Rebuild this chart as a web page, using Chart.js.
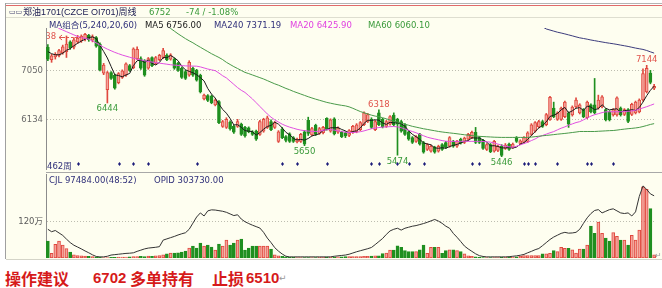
<!DOCTYPE html>
<html lang="zh-CN">
<head>
<meta charset="utf-8">
<title>郑油1701 周线</title>
<script src="https://cdn.jsdelivr.net/npm/chart.js@4.4.1/dist/chart.umd.min.js"></script>
<style>
  html, body { margin:0; padding:0; background:#ffffff; }
  #stage { position:relative; width:662px; height:288px; overflow:hidden; background:#ffffff; }
  .abs { position:absolute; white-space:nowrap; }
  .ln { position:absolute; }
  .s { font-family:"DejaVu Sans","Noto Sans CJK SC",sans-serif; font-size:8.5px; line-height:10px; }
  canvas { position:absolute; left:0; }
  .big { font-family:"Noto Sans CJK SC",sans-serif; font-weight:700; font-size:16px; line-height:18px; color:#d61a1a; }
  .bign { font-family:"Liberation Sans",Arial,sans-serif; font-weight:700; font-size:15px; line-height:18px; color:#d61a1a; }
</style>
</head>
<body>
<div id="stage">
  <div class="ln" style="left:6px;top:5px;width:656px;height:254px;background:#fefef0"></div>
  <div class="ln" style="left:6px;top:3px;width:656px;height:1px;background:#b4b4b4"></div>
  <div class="ln" style="left:6px;top:5px;width:656px;height:1px;background:#e06a6a"></div>
  <div class="ln" style="left:6px;top:17px;width:656px;height:1px;background:#deded0"></div>
  <div class="ln" style="left:5px;top:3px;width:1px;height:256px;background:#a0a0a0"></div>
  <div class="ln" style="left:46px;top:172px;width:616px;height:1px;background:#a8a8a8"></div>
  <div class="ln" style="left:6px;top:259px;width:656px;height:1px;background:#d4d4c8"></div>

  <canvas id="priceChart" width="662" height="178" style="top:0px"></canvas>
  <canvas id="volChart" width="662" height="100" style="top:166px"></canvas>

  <div class="abs" style="left:9px;top:7px;font:7px 'DejaVu Sans';line-height:10px;color:#3a3a6a">▭▭</div>
  <div class="abs" style="left:23px;top:7px;font-family:'Liberation Sans','Noto Sans CJK SC',sans-serif;font-size:9px;line-height:10px;color:#1a1a50">郑油1701(CZCE OI701)周线</div>
  <div class="abs s" id="lastPrice" style="left:149px;top:7px;color:#3a9a3a"></div>
  <div class="abs s" id="change" style="left:186px;top:7px;color:#3a9a3a"></div>

  <div class="abs s" style="left:49px;top:20px;color:#30307a">MA组合(5,240,20,60)</div>
  <div class="abs s" id="lg5" style="left:145px;top:20px;color:#202020"></div>
  <div class="abs s" id="lg240" style="left:214px;top:20px;color:#30307a"></div>
  <div class="abs s" id="lg20" style="left:290px;top:20px;color:#e040e0"></div>
  <div class="abs s" id="lg60" style="left:368px;top:20px;color:#3a9a3a"></div>

  <div class="abs s" style="left:47px;top:161px;color:#30307a">462周</div>
  <div class="abs s" id="cjl" style="left:49px;top:175px;color:#30307a"></div>
  <div class="abs s" id="opid" style="left:154px;top:175px;color:#30307a"></div>
  <div class="abs" style="left:655px;top:251px;font:8px 'DejaVu Sans';line-height:10px;color:#999">↵</div>

  <div class="abs big" style="left:5px;top:269px">操作建议</div>
  <div class="abs bign" style="left:93px;top:269px">6702</div>
  <div class="abs big" style="left:130px;top:269px">多单持有</div>
  <div class="abs big" style="left:212px;top:269px">止损</div>
  <div class="abs bign" style="left:246px;top:269px">6510</div>
  <div class="abs" style="left:279px;top:272px;font:9px 'DejaVu Sans';line-height:12px;color:#999">↵</div>
</div>

<script>
// ---------------- data (weekly) ----------------
const opens = [7480,7250,7300,7330,7380,7400,7580,7480,7580,7600,
 7640,7700,7610,7660,7540,7000,6690,7010,6960,6820,
 6920,6960,7140,7100,7270,7270,7230,7090,7290,7180,
 7250,7290,7330,7260,7260,7180,7090,7030,6960,7090,
 7050,6960,6520,6580,6570,6410,6470,6010,5990,6090,
 6010,6010,6050,5990,5980,5910,5920,5860,5920,5990,
 6100,5990,5730,5960,5820,5870,5800,5720,5730,5910,
 6120,5850,6030,5880,5890,6160,5920,6150,5900,5900,
 5890,5840,5900,5910,5950,6040,6100,6140,5950,6260,
 6140,6010,6050,6220,6140,6100,6040,5910,5800,5730,
 5860,5710,5580,5550,5620,5550,5670,5710,5640,5730,
 5640,5770,5710,5770,5800,5900,5800,5750,5580,5670,
 5550,5560,5640,5600,5680,5620,5790,5690,5710,5730,
 5860,5920,6000,6100,6040,6140,6350,6140,6140,6190,
 6260,6220,6370,6260,6320,6170,6410,6410,6350,6370,
 6320,6280,6220,6220,6350,6230,6320,6230,6260,6280,
 6500,6650,7000,6720];
const highs = [7530,7350,7380,7440,7520,7690,7600,7660,7700,7710,
 7738,7720,7710,7680,7560,7180,7030,7030,6980,7010,
 7060,7190,7160,7470,7490,7300,7250,7290,7300,7310,
 7350,7460,7360,7360,7280,7200,7110,7050,7230,7110,
 7070,6980,6610,6600,6590,6520,6490,6120,6170,6110,
 6030,6140,6070,6010,6000,5930,5940,6120,6160,6200,
 6130,6100,5930,5990,5840,5890,5820,5790,5880,5930,
 6180,5990,6050,5990,6010,6170,6150,6170,6000,5920,
 5910,5950,6030,6060,6100,6280,6250,6170,6120,6318,
 6160,6120,6210,6260,6160,6120,6060,5930,5820,5840,
 5880,5730,5690,5660,5640,5660,5690,5730,5820,5750,
 5750,5790,5810,5880,5920,5990,5820,5770,5690,5690,
 5750,5660,5670,5690,5700,5700,5820,5760,5820,5910,
 6060,6100,6120,6120,6250,6570,6460,6280,6370,6480,
 6280,6390,6540,6430,6340,6480,6430,6900,6590,6580,
 6340,6300,6340,6560,6370,6340,6340,6440,6480,6520,
 7080,7144,7050,6790];
const lows = [7230,7200,7260,7300,7350,7290,7440,7450,7550,7570,
 7600,7590,7580,7480,7040,6970,6444,6880,6700,6800,
 6900,6940,7030,7080,7250,7070,6940,7070,7120,7160,
 7230,7270,7230,7240,7070,7030,6900,6880,6940,6940,
 6850,6630,6500,6470,6430,6390,6060,5990,5970,5940,
 5880,5990,5840,5810,5890,5840,5750,5840,5900,5970,
 5930,5970,5710,5780,5720,5710,5710,5700,5710,5650,
 5840,5830,5840,5860,5870,5940,5900,5850,5880,5800,
 5800,5820,5880,5890,5930,6020,6080,5970,5930,6020,
 5980,5990,6030,6020,5474,5900,5840,5750,5690,5710,
 5660,5510,5560,5530,5510,5530,5560,5600,5620,5620,
 5620,5680,5690,5750,5780,5690,5690,5580,5560,5520,
 5530,5540,5446,5580,5560,5600,5710,5670,5690,5710,
 5840,5900,5980,5990,6020,6120,6170,6120,6120,6170,
 5990,6200,6350,6240,6170,6150,6260,6240,6330,6350,
 6110,6110,6200,6200,6200,6210,6080,6210,6240,6260,
 6480,6630,6800,6690];
const closes = [7260,7320,7350,7420,7490,7540,7470,7620,7650,7690,
 7720,7620,7680,7500,7060,7150,7010,6900,6720,6990,
 7040,7170,7050,7450,7440,7090,6960,7270,7140,7290,
 7330,7420,7250,7340,7090,7050,6920,6900,7200,6960,
 6870,6650,6590,6490,6450,6500,6080,6100,6140,5960,
 5900,6100,5860,5830,5910,5860,5770,6100,6140,6170,
 5950,6080,5910,5800,5750,5730,5730,5770,5860,5680,
 5880,5970,5860,5970,5990,5960,6130,5870,5980,5820,
 5830,5930,6010,6040,6080,6260,6230,5990,6100,6040,
 6000,6100,6190,6040,6050,5920,5860,5770,5710,5820,
 5680,5530,5670,5640,5530,5640,5580,5620,5800,5640,
 5730,5700,5790,5860,5900,5710,5710,5600,5670,5540,
 5730,5640,5470,5660,5580,5680,5730,5740,5800,5890,
 6040,6080,6100,6010,6230,6550,6190,6260,6350,6460,
 6050,6370,6500,6410,6190,6460,6280,6260,6500,6560,
 6130,6130,6320,6540,6220,6320,6100,6420,6460,6500,
 6990,7090,6826,6752];
const ma5 = [7400,7360,7340,7340,7368,7424,7454,7508,7554,7594,
 7630,7660,7672,7642,7516,7402,7280,7124,6968,6954,
 6932,6964,6994,7140,7230,7240,7198,7242,7180,7150,
 7198,7290,7286,7326,7286,7230,7130,7060,7032,7006,
 6970,6916,6854,6712,6610,6536,6422,6324,6254,6156,
 6036,6040,5992,5930,5920,5912,5846,5894,5956,6008,
 6026,6088,6050,5982,5898,5854,5784,5756,5768,5754,
 5784,5832,5850,5872,5934,5950,5982,5984,5986,5952,
 5926,5886,5914,5926,5978,6064,6124,6120,6132,6124,
 6072,6046,6086,6074,6076,6060,6012,5928,5862,5816,
 5768,5702,5682,5668,5610,5602,5612,5602,5634,5656,
 5674,5698,5732,5744,5796,5792,5794,5756,5718,5646,
 5650,5636,5610,5608,5616,5606,5624,5678,5706,5768,
 5840,5910,5982,6024,6092,6194,6216,6248,6316,6362,
 6262,6298,6346,6358,6304,6386,6368,6320,6338,6412,
 6346,6316,6328,6336,6268,6306,6300,6320,6304,6360,
 6460,6580,6680,6756.00];
const ma20 = [7960,7920,7880,7830,7800,7770,7740,7710,7680,7660,
 7645,7630,7600,7560,7520,7480,7445,7415,7385,7360,
 7335,7315,7295,7275,7260,7245,7230,7215,7205,7195,
 7185,7175,7165,7155,7148,7142,7138,7134,7131,7130,
 7128,7115,7095,7075,7060,7045,7000,6950,6910,6850,
 6790,6730,6680,6640,6580,6520,6450,6380,6310,6240,
 6180,6130,6090,6050,6020,5995,5975,5955,5940,5930,
 5922,5917,5914,5920,5935,5948,5950,5940,5925,5914,
 5900,5895,5895,5900,5910,5925,5945,5965,5978,5987,
 5995,6000,6004,6006,6000,5985,5960,5935,5914,5890,
 5862,5835,5808,5790,5775,5760,5745,5733,5730,5730,
 5731,5731,5731,5731,5731,5730,5731,5728,5722,5716,
 5700,5680,5660,5640,5628,5621,5640,5665,5690,5713,
 5745,5775,5815,5840,5865,5890,5912,5945,5975,6000,
 6030,6055,6080,6097,6130,6165,6200,6226,6245,6265,
 6280,6281,6281,6281,6281,6285,6290,6296,6310,6330,
 6352,6375,6400,6425.90];
const blank = n => Array(n).fill(null);
const ma60 = blank(30).concat([7960,7920,7880,7830,7780,7730,7685,7640,7600,7563,
 7520,7480,7440,7400,7360,7325,7290,7250,7200,7160,
 7120,7085,7048,7013,6990,6965,6940,6915,6890,6860,
 6830,6800,6775,6745,6715,6690,6660,6635,6610,6585,
 6560,6537,6515,6495,6475,6455,6440,6425,6412,6400,
 6390,6372,6345,6315,6285,6262,6240,6218,6200,6189,
 6170,6150,6128,6105,6090,6070,6050,6030,6010,5995,
 5980,5965,5953,5940,5928,5915,5905,5896,5888,5880,
 5872,5862,5853,5845,5837,5830,5824,5820,5816,5812,
 5808,5806,5804,5804,5804,5804,5804,5804,5804,5804,
 5810,5818,5826,5834,5841,5848,5856,5864,5871,5878,
 5886,5895,5904,5914,5914,5914,5914,5914,5918,5922,
 5926,5930,5932,5940,5950,5958,5966,5972,5980,5990,
 6006,6025,6045,6060.10]);
const ma240 = blank(133).concat([7860,7820,7800,7780,7760,7745,7728,7710,7692,7673,
 7655,7643,7630,7615,7603,7590,7578,7566,7555,7545,
 7533,7520,7508,7495,7480,7465,7452,7440,7420,7395,
 7371.19]);
const volumes = [550000,150000,450000,550000,420000,310000,190000,100000,80000,70000,
 60000,50000,40000,30000,20000,10000,10000,15000,20000,25000,
 30000,30000,35000,40000,40000,50000,45000,60000,55000,70000,
 80000,97000,130000,162000,162000,170000,195000,227000,324000,389000,
 324000,486000,389000,421000,356000,259000,454000,389000,583000,421000,
 486000,583000,616000,259000,324000,389000,389000,389000,389000,389000,
 292000,97000,65000,50000,32000,20000,15000,12000,10000,10000,
 10000,10000,12000,15000,20000,25000,30000,30000,35000,35000,
 40000,40000,40000,40000,45000,50000,55000,60000,65000,70000,
 146000,162000,259000,259000,400000,347000,237000,204000,210000,204000,
 269000,421000,152000,347000,347000,347000,152000,237000,269000,269000,
 237000,204000,130000,65000,49000,39000,15000,10000,10000,8000,
 8000,10000,15000,20000,25000,30000,35000,50000,75000,75000,
 75000,75000,80000,130000,130000,150000,237000,204000,347000,313000,
 313000,269000,162000,292000,292000,421000,1050000,810000,1180000,810000,
 648000,551000,831000,713000,583000,583000,421000,745000,583000,918000,
 2340000,2260000,1620000,97484];
const openInterest = [140000,128000,134000,122000,110000,92000,75000,62000,53000,44000,
 34000,25000,15000,7000,5000,5000,8000,14000,16000,18000,
 20000,22000,23000,25000,32000,38000,44000,48000,50000,52000,
 55000,87000,93000,99000,105000,112000,118000,123000,140000,170000,
 200000,220000,205000,230000,235000,234000,231000,228000,223000,215000,
 207000,211000,190000,177000,168000,160000,153000,146000,125000,97000,
 75000,50000,33000,19000,8000,5000,5000,5000,5000,5000,
 5000,5000,5000,5000,5000,5000,5000,8000,10000,12000,
 14000,18000,24000,30000,35000,40000,45000,51000,65000,80000,
 95000,115000,132000,140000,145000,136000,145000,150000,155000,158000,
 163000,168000,174000,181000,188000,180000,169000,155000,145000,120000,
 101000,80000,58000,44000,32000,20000,11000,7000,5000,5000,
 5000,5000,5000,5000,6000,8000,10000,13000,17000,25000,
 32000,40000,46000,60000,75000,90000,102000,111000,120000,125000,
 121000,122000,125000,140000,169000,196000,217000,232000,236000,220000,
 228000,236000,240000,230000,220000,217000,220000,205000,225000,300000,
 352000,335000,313000,303730];
const weeks = closes.map((_, i) => 'W' + (i + 1));
const priceTicks = [6134, 7050];
const volTicks = [1200000];
const volTickLabels = ['120万'];
const PRICE_MIN = 5200, PRICE_MAX = 7838;
const VOL_MAX = 2757000, OI_MAX = 409800;
const extremes = [
  {week: 10, kind: 'highLeft'},
  {week: 16, kind: 'low'},
  {week: 69, kind: 'low'},
  {week: 89, kind: 'high'},
  {week: 94, kind: 'low'},
  {week: 122, kind: 'low'},
  {week: 161, kind: 'high'}
];
const signalWeeks = [8,19,23,27,40,63,67,75,87,89,94,97,101,114,116,128,129,131,137,145,146,152];

// ---------------- styles ----------------
const FONT = '"DejaVu Sans", "Noto Sans CJK SC", sans-serif';
const RED_FILL = '#f4a39a', RED_LINE = '#e0483e', GREEN = '#1f8f1f';
const up = closes.map((c, i) => c >= opens[i]);
Chart.defaults.font.family = FONT;

// ---------------- text from data ----------------
const last = closes.length - 1;
const chg = closes[last] - closes[last - 1];
document.getElementById('lastPrice').textContent = String(closes[last]);
document.getElementById('change').textContent = chg + ' / ' + (chg / closes[last - 1] * 100).toFixed(2) + '%';
document.getElementById('lg5').textContent = 'MA5 ' + ma5[last].toFixed(2);
document.getElementById('lg240').textContent = 'MA240 ' + ma240[last].toFixed(2);
document.getElementById('lg20').textContent = 'MA20 ' + ma20[last].toFixed(2);
document.getElementById('lg60').textContent = 'MA60 ' + ma60[last].toFixed(2);
document.getElementById('cjl').textContent = 'CJL  ' + volumes[last].toFixed(2) + '(48:52)';
document.getElementById('opid').textContent = 'OPID  ' + openInterest[last].toFixed(2);

// ---------------- plugins ----------------
const annotate = {
  id: 'annotate',
  afterDatasetsDraw(chart) {
    const {ctx, chartArea: a, scales: {x, y}} = chart;
    ctx.save();
    ctx.font = '8.5px ' + FONT;
    ctx.textAlign = 'center';
    for (const e of extremes) {
      const px = x.getPixelForValue(e.week);
      if (e.kind === 'low') {
        const v = lows[e.week];
        ctx.fillStyle = '#3a9a3a'; ctx.textBaseline = 'top';
        ctx.fillText(String(v), px, y.getPixelForValue(v) + 2);
      } else if (e.kind === 'high') {
        const v = highs[e.week];
        ctx.fillStyle = '#e0544c'; ctx.textBaseline = 'bottom';
        ctx.fillText(String(v), px, y.getPixelForValue(v) - 1);
      } else {
        const v = highs[e.week];
        const py = Math.round(y.getPixelForValue(v)) + 4;
        ctx.save();
        ctx.beginPath(); ctx.rect(a.left + 1, 0, a.width, chart.height); ctx.clip();
        ctx.fillStyle = '#e0544c'; ctx.textAlign = 'right'; ctx.textBaseline = 'middle';
        ctx.fillText(String(v), px - 29, py);
        ctx.strokeStyle = '#e0544c'; ctx.lineWidth = 1;
        ctx.setLineDash([2, 2]);
        ctx.beginPath(); ctx.moveTo(px - 22, py + 0.5); ctx.lineTo(px - 4, py + 0.5); ctx.stroke();
        ctx.setLineDash([]);
        ctx.beginPath();
        ctx.moveTo(px - 26, py + 0.5); ctx.lineTo(px - 21, py + 0.5);
        ctx.moveTo(px - 26, py + 0.5); ctx.lineTo(px - 23, py - 2);
        ctx.moveTo(px - 26, py + 0.5); ctx.lineTo(px - 23, py + 3);
        ctx.stroke();
        ctx.restore();
      }
    }
    ctx.fillStyle = '#1c1c7a';
    for (const w of signalWeeks) {
      const px = Math.round(x.getPixelForValue(w)) + 0.5, py = a.bottom - 6;
      ctx.beginPath();
      ctx.moveTo(px, py - 2); ctx.lineTo(px + 1.5, py); ctx.lineTo(px, py + 2); ctx.lineTo(px - 1.5, py);
      ctx.closePath(); ctx.fill();
    }
    ctx.restore();
  }
};

const baseOpts = (padding) => ({
  responsive: false, maintainAspectRatio: false, animation: false, devicePixelRatio: 1, events: [],
  layout: {padding},
  plugins: {legend: {display: false}, tooltip: {enabled: false}}
});

// ---------------- price chart ----------------
const lineDs = (label, data, color) => ({
  type: 'line', label, data, borderColor: color, borderWidth: 1, pointRadius: 0,
  tension: 0, spanGaps: false, order: 0
});
new Chart(document.getElementById('priceChart'), {
  data: {
    labels: weeks,
    datasets: [
      lineDs('MA60', ma60, '#4a9a4a'),
      lineDs('MA240', ma240, '#3c3c7c'),
      lineDs('MA20', ma20, '#e050e0'),
      lineDs('MA5', ma5, '#1a1a1a'),
      {type: 'bar', label: 'wick', data: lows.map((l, i) => [l, highs[i]]),
       backgroundColor: up.map(u => u ? RED_LINE : GREEN), barThickness: 1, grouped: false, order: 2},
      {type: 'bar', label: 'body', data: opens.map((o, i) => [o, closes[i]]),
       backgroundColor: up.map(u => u ? RED_FILL : GREEN), borderColor: up.map(u => u ? RED_LINE : GREEN),
       borderWidth: 1, borderSkipped: false, barThickness: 3, grouped: false, order: 1}
    ]
  },
  options: Object.assign(baseOpts({top: 28, right: 6, bottom: 6, left: 0}), {
    scales: {
      x: {type: 'category', display: false, offset: true},
      y: {type: 'linear', min: PRICE_MIN, max: PRICE_MAX,
          afterFit(s) { s.width = 46; },
          afterBuildTicks(s) { s.ticks = priceTicks.map(v => ({value: v})); },
          ticks: {color: '#6a6a6a', font: {size: 8.5, family: FONT}, padding: 3, autoSkip: false,
                  callback: v => String(v)},
          grid: {color: '#bdbdb0', drawTicks: false},
          border: {display: true, color: '#8c8c8c', dash: [1, 2]}}
    }
  }),
  plugins: [annotate]
});

// ---------------- volume / open interest chart ----------------
new Chart(document.getElementById('volChart'), {
  data: {
    labels: weeks,
    datasets: [
      {type: 'line', label: 'OPID', data: openInterest, yAxisID: 'y2', borderColor: '#333333',
       borderWidth: 1, pointRadius: 0, tension: 0, order: 0},
      {type: 'bar', label: 'CJL', data: volumes, yAxisID: 'y',
       backgroundColor: up.map(u => u ? RED_FILL : GREEN), borderColor: up.map(u => u ? RED_LINE : GREEN),
       borderWidth: 1, borderSkipped: false, barThickness: 3, order: 1}
    ]
  },
  options: Object.assign(baseOpts({top: 7, right: 6, bottom: 8, left: 0}), {
    scales: {
      x: {type: 'category', display: false, offset: true},
      y: {type: 'linear', position: 'left', min: 0, max: VOL_MAX,
          afterFit(s) { s.width = 46; },
          afterBuildTicks(s) { s.ticks = volTicks.map(v => ({value: v})); },
          ticks: {color: '#5a5a5a', font: {size: 8.5, family: FONT}, padding: 3, autoSkip: false,
                  callback: v => volTickLabels[volTicks.indexOf(v)]},
          grid: {color: '#bdbdb0', drawTicks: false},
          border: {display: true, color: '#8c8c8c', dash: [1, 2]}},
      y2: {type: 'linear', display: false, min: 0, max: OI_MAX}
    }
  })
});
</script>
</body>
</html>
